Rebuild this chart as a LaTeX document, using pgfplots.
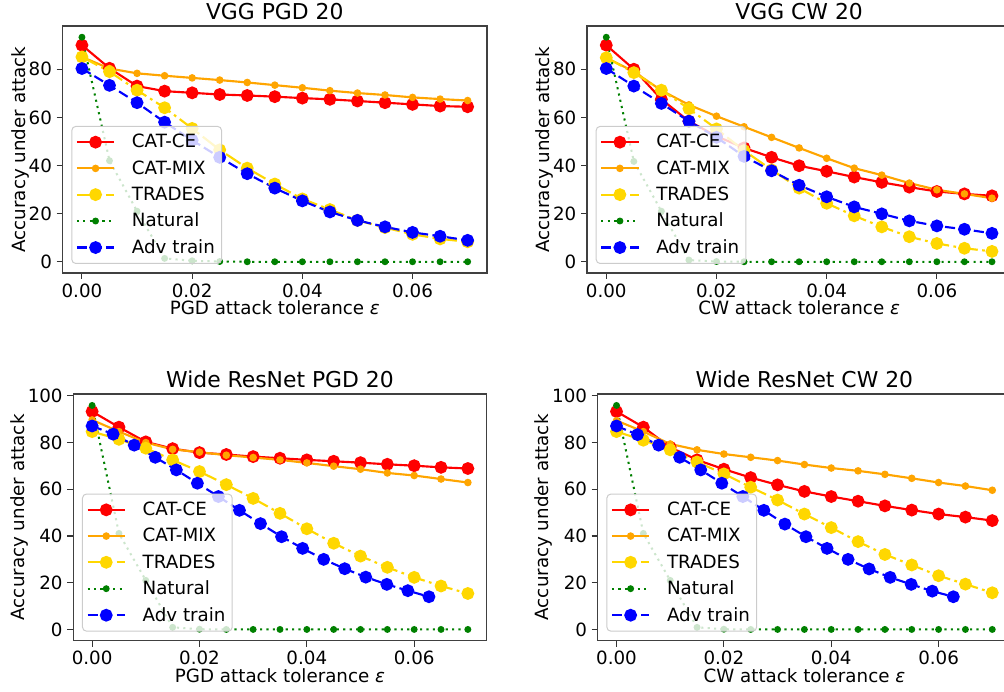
\documentclass[border=0pt]{standalone}
\usepackage{fontspec}
\setmainfont{DejaVu Sans}
\usepackage{pgfplots}
\usepackage{pgfplotstable}
\pgfplotsset{compat=1.18}

\definecolor{mplorange}{HTML}{FFA500}
\definecolor{mplgold}{HTML}{FFD700}
\definecolor{mplgreen}{HTML}{008000}

% eps = 0, 0.005, ..., 0.07
\pgfplotstableread{
x      ce    mix   tr    nat
0.000  90.0  85.1  85.1  93.3
0.005  80.4  80.3  79.0  42.0
0.010  73.0  78.3  71.3  21.0
0.015  70.9  77.3  64.0  1.4
0.020  70.2  76.4  55.4  0.4
0.025  69.5  75.5  46.5  0.1
0.030  69.1  74.5  38.9  0
0.035  68.6  73.4  32.3  0
0.040  68.0  72.3  26.1  0
0.045  67.5  71.1  21.7  0
0.050  66.8  70.1  17.2  0
0.055  66.1  69.3  14.2  0
0.060  65.4  68.3  11.4  0
0.065  64.7  67.6  9.5   0
0.070  64.4  67.0  8.3   0
}\vggpgd
\pgfplotstableread{
x      adv
0.000  80.3
0.005  73.3
0.010  66.1
0.015  58.0
0.020  50.5
0.025  43.4
0.030  36.6
0.035  30.6
0.040  25.3
0.045  20.7
0.050  17.2
0.055  14.5
0.060  12.2
0.065  10.6
0.070  8.9
}\vggpgdadv

\pgfplotstableread{
x      ce    mix   tr    nat
0.000  90.0  84.8  84.8  93.3
0.005  80.0  79.0  78.6  41.7
0.010  67.5  71.2  71.3  21.0
0.015  58.4  65.2  63.6  0.7
0.020  52.2  60.5  55.2  0.1
0.025  47.3  56.1  46.2  0
0.030  43.4  51.7  38.2  0
0.035  39.9  47.3  30.6  0
0.040  37.6  43.0  24.3  0
0.045  35.2  38.9  19.1  0
0.050  33.0  36.0  14.5  0
0.055  31.0  32.7  10.4  0
0.060  29.2  29.9  7.6   0
0.065  28.2  28.2  5.6   0
0.070  27.4  26.4  4.3   0
}\vggcw
\pgfplotstableread{
x      adv
0.000  80.3
0.005  73.0
0.010  65.8
0.015  58.4
0.020  51.7
0.025  43.8
0.030  37.8
0.035  31.8
0.040  27.0
0.045  22.8
0.050  19.9
0.055  17.0
0.060  14.9
0.065  13.5
0.070  11.8
}\vggcwadv

\pgfplotstableread{
x      ce    mix   tr    nat
0.000  93.3  89.7  84.7  95.9
0.005  86.6  84.7  81.4  41.1
0.010  80.3  80.0  77.6  21.0
0.015  77.4  77.1  72.6  0.9
0.020  75.7  75.9  67.6  0.1
0.025  74.9  74.6  62.0  0
0.030  74.0  73.6  56.1  0
0.035  73.3  72.6  49.7  0
0.040  72.6  71.3  43.1  0
0.045  72.0  69.9  36.9  0
0.050  71.4  68.6  31.4  0
0.055  70.7  67.0  26.6  0
0.060  70.1  65.9  22.3  0
0.065  69.4  64.4  18.6  0
0.070  68.9  62.9  15.4  0
}\wrnpgd
% adv train evaluated at k/255
\pgfplotstableread{
x        adv
0.00000  87.1
0.00392  83.6
0.00784  78.9
0.01176  73.7
0.01569  68.3
0.01961  62.6
0.02353  56.9
0.02745  51.0
0.03137  45.3
0.03529  39.7
0.03922  34.7
0.04314  30.0
0.04706  26.0
0.05098  22.4
0.05490  19.3
0.05882  16.6
0.06275  14.0
}\wrnpgdadv

\pgfplotstableread{
x      ce    mix   tr    nat
0.000  93.3  89.4  84.7  95.9
0.005  86.6  84.7  81.0  41.1
0.010  78.0  79.4  76.9  21.0
0.015  72.6  76.9  71.7  0.9
0.020  68.6  75.1  66.6  0.1
0.025  65.0  73.7  60.9  0
0.030  61.9  72.3  55.4  0
0.035  59.1  70.6  49.4  0
0.040  56.9  69.1  43.6  0
0.045  54.9  67.9  37.6  0
0.050  52.9  66.4  32.1  0
0.055  51.1  64.7  27.6  0
0.060  49.4  62.9  23.0  0
0.065  48.1  61.4  19.4  0
0.070  46.6  59.6  15.7  0
}\wrncw
\pgfplotstableread{
x        adv
0.00000  87.1
0.00392  83.4
0.00784  78.9
0.01176  73.7
0.01569  68.3
0.01961  62.6
0.02353  56.9
0.02745  51.0
0.03137  45.1
0.03529  39.7
0.03922  34.7
0.04314  30.0
0.04706  25.9
0.05098  22.3
0.05490  19.3
0.05882  16.4
0.06275  14.0
}\wrncwadv

\pgfplotsset{
  panel/.style={
    scale only axis, anchor=south west,
    xmin=-0.0035, xmax=0.0735,
    xtick={0,0.02,0.04,0.06},
    scaled x ticks=false,
    xticklabel style={/pgf/number format/.cd, fixed, fixed zerofill, precision=2},
    /pgf/number format/assume math mode=true,
    tick align=outside, xtick pos=bottom, ytick pos=left,
    major tick length=4.5pt,
    every tick/.style={black!80, line width=0.8pt},
    axis line style={black!75, line width=0.9pt},
    font=\fontsize{13.7}{16}\selectfont,
    every axis title shift=0pt,
    title style={font=\fontsize{16.4}{19}\selectfont,
      at={(axis description cs:0.5,1)}, anchor=base, inner sep=0pt, yshift=4.5pt},
    ylabel={Accuracy under attack},
    ylabel style={yshift=-7pt},
    xlabel style={yshift=4.5pt},
    legend cell align=left,
    legend style={at={(axis description cs:0,0)}, anchor=south west,
      xshift=6.5pt, yshift=6.75pt, draw=black!20, line width=0.75pt,
      rounded corners=3pt, fill=white, fill opacity=0.8, text opacity=1,
      inner xsep=3pt, inner ysep=4pt, row sep=4pt,
      /tikz/every odd column/.append style={column sep=10.5pt},
      font=\fontsize{13.7}{16}\selectfont},
    legend image code/.code={
      \draw[mark repeat=2, mark phase=2, fill opacity=1]
        plot coordinates {(0pt,0pt) (14pt,0pt) (28pt,0pt)};},
    legend entries={CAT-CE, CAT-MIX, TRADES, Natural, Adv train},
  },
  ce/.style={red, line width=1.6pt, mark=*, mark size=4pt, mark options={solid}},
  mix/.style={mplorange, line width=1.6pt, mark=*, mark size=2pt, mark options={solid}},
  tr/.style={mplgold, line width=1.6pt, mark=*, mark size=4pt,
    dash pattern=on 13.1pt off 3.3pt on 2.05pt off 3.3pt, mark options={solid}},
  nat/.style={mplgreen, line width=1.5pt, mark=*, mark size=1.8pt,
    dash pattern=on 1.6pt off 3.2pt, mark options={solid}},
  adv/.style={blue, line width=1.6pt, mark=*, mark size=4pt,
    dash pattern=on 7.6pt off 3.3pt, mark options={solid}},
}

\begin{document}
\begin{tikzpicture}
\useasboundingbox (0,0) rectangle (753pt,519pt);

\begin{axis}[panel, at={(47pt,314.25pt)}, width=318.2pt, height=185.25pt,
    ymin=-4.67, ymax=97.97, ytick={0,20,40,60,80},
    title={VGG PGD 20}, xlabel={PGD attack tolerance \textit{ε}}]
  \addplot[ce] table[x=x, y=ce] {\vggpgd};
  \addplot[mix] table[x=x, y=mix] {\vggpgd};
  \addplot[tr] table[x=x, y=tr] {\vggpgd};
  \addplot[nat] table[x=x, y=nat] {\vggpgd};
  \addplot[adv] table[x=x, y=adv] {\vggpgdadv};
\end{axis}

\begin{axis}[panel, at={(440.25pt,314.25pt)}, width=318.2pt, height=185.25pt,
    ymin=-4.67, ymax=97.97, ytick={0,20,40,60,80},
    title={VGG CW 20}, xlabel={CW attack tolerance \textit{ε}}]
  \addplot[ce] table[x=x, y=ce] {\vggcw};
  \addplot[mix] table[x=x, y=mix] {\vggcw};
  \addplot[tr] table[x=x, y=tr] {\vggcw};
  \addplot[nat] table[x=x, y=nat] {\vggcw};
  \addplot[adv] table[x=x, y=adv] {\vggcwadv};
\end{axis}

\begin{axis}[panel, at={(55pt,38.5pt)}, width=310pt, height=185pt,
    ymin=-4.8, ymax=100.8, ytick={0,20,40,60,80,100},
    title={Wide ResNet PGD 20}, xlabel={PGD attack tolerance \textit{ε}}]
  \addplot[ce] table[x=x, y=ce] {\wrnpgd};
  \addplot[mix] table[x=x, y=mix] {\wrnpgd};
  \addplot[tr] table[x=x, y=tr] {\wrnpgd};
  \addplot[nat] table[x=x, y=nat] {\wrnpgd};
  \addplot[adv] table[x=x, y=adv] {\wrnpgdadv};
\end{axis}

\begin{axis}[panel, at={(448.3pt,38.5pt)}, width=310pt, height=185pt,
    ymin=-4.8, ymax=100.8, ytick={0,20,40,60,80,100},
    title={Wide ResNet CW 20}, xlabel={CW attack tolerance \textit{ε}}]
  \addplot[ce] table[x=x, y=ce] {\wrncw};
  \addplot[mix] table[x=x, y=mix] {\wrncw};
  \addplot[tr] table[x=x, y=tr] {\wrncw};
  \addplot[nat] table[x=x, y=nat] {\wrncw};
  \addplot[adv] table[x=x, y=adv] {\wrncwadv};
\end{axis}
\end{tikzpicture}
\end{document}
